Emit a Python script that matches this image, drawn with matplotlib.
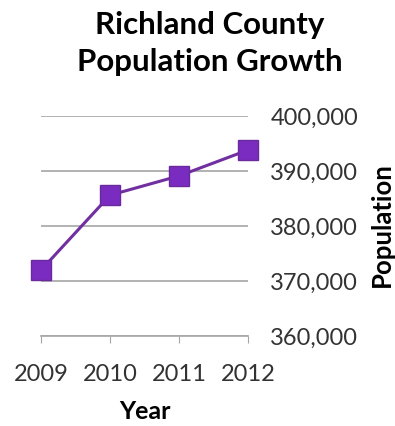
import matplotlib.pyplot as plt
from matplotlib.ticker import FuncFormatter

years = ["2009", "2010", "2011", "2012"]
population = [372000, 385600, 389100, 393800]
y_ticks = [360000, 370000, 380000, 390000, 400000]

plt.rcParams['font.family'] = ['Lato', 'DejaVu Sans']

fig = plt.figure(figsize=(3.95, 4.26), dpi=100)
ax = fig.add_axes([0.104, 0.211, 0.524, 0.517])

x = range(len(years))
ax.plot(x, population, color="#7030A0", lw=2.2, marker="s", ms=15,
        mfc="#7B2CC0", mec="#6A2A9E", clip_on=False, zorder=3)

ax.set_xlim(0, len(years) - 1)
ax.set_ylim(360000, 400000)
ax.set_xticks(list(x))
ax.set_xticklabels(years)
ax.set_yticks(y_ticks)
ax.yaxis.set_major_formatter(FuncFormatter(lambda v, p: f"{int(v):,}"))
ax.yaxis.tick_right()

ax.grid(axis="y", color="#a6a6a6", lw=1.2)
ax.set_axisbelow(True)
for s in ["top", "left", "right"]:
    ax.spines[s].set_visible(False)
ax.spines["bottom"].set_color("#a6a6a6")
ax.spines["bottom"].set_linewidth(1.2)

ax.tick_params(axis="x", length=5, color="#a6a6a6", labelsize=17,
               labelcolor="#333333", pad=15)
ax.tick_params(axis="y", length=0, labelsize=17, labelcolor="#333333", pad=16)

ax.set_xlabel("Year", fontsize=18, fontweight="bold", labelpad=11)
fig.text(0.968, 0.472, "Population", rotation=90, ha="center", va="center",
         fontsize=18.5, fontweight="bold")

fig.text(0.532, 0.975, "Richland County\nPopulation Growth", ha="center",
         va="top", fontsize=22.5, fontweight="bold", linespacing=1.42)

fig.savefig("out.png", dpi=100)
